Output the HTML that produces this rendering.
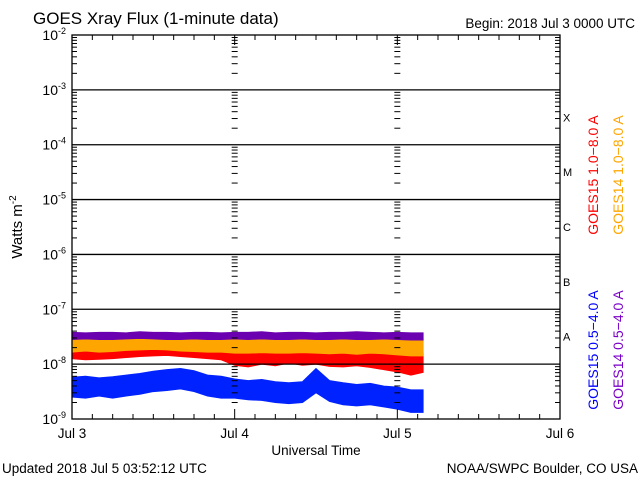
<!DOCTYPE html>
<html><head><meta charset="utf-8"><style>
body{margin:0;background:#fff;width:640px;height:480px;overflow:hidden}
svg text{font-family:"Liberation Sans",sans-serif}
</style></head><body>
<svg id="chart" width="640" height="480" xmlns="http://www.w3.org/2000/svg">
<rect width="640" height="480" fill="#fff"/>
<text x="33" y="24" font-size="17">GOES Xray Flux (1-minute data)</text>
<text x="635" y="28" font-size="13.5" text-anchor="end">Begin:  2018 Jul 3 0000 UTC</text>
<text transform="translate(22,227) rotate(-90)" font-size="15" text-anchor="middle">Watts m<tspan font-size="10" dy="-6">-2</tspan></text>
<text x="316" y="455" font-size="13.5" text-anchor="middle">Universal Time</text>
<text x="2" y="473" font-size="13.5">Updated 2018 Jul  5 03:52:12 UTC</text>
<text x="638" y="473" font-size="13.5" text-anchor="end">NOAA/SWPC Boulder, CO USA</text>
<g id="series"></g>
<g id="axes"></g>
<g id="legend" font-size="14">
<text transform="translate(598,175) rotate(-90)" fill="#ff0000" text-anchor="middle">GOES15 1.0−8.0 A</text>
<text transform="translate(623,175) rotate(-90)" fill="#ffa500" text-anchor="middle">GOES14 1.0−8.0 A</text>
<text transform="translate(598,350) rotate(-90)" fill="#0000ff" text-anchor="middle">GOES15 0.5−4.0 A</text>
<text transform="translate(623,350) rotate(-90)" fill="#7a00c8" text-anchor="middle">GOES14 0.5−4.0 A</text>
</g>
</svg>
<script>
// hours since Jul 3 00:00, every 2 h
const hours=[0,2,4,6,8,10,12,14,16,18,20,22,24,26,28,30,32,34,36,38,40,42,44,46,48,50,51.8];
// log10 flux envelopes
const g14sHi=[-7.42,-7.43,-7.42,-7.42,-7.43,-7.41,-7.42,-7.42,-7.43,-7.42,-7.42,-7.43,-7.42,-7.42,-7.41,-7.43,-7.42,-7.42,-7.43,-7.42,-7.42,-7.41,-7.42,-7.43,-7.42,-7.43,-7.43];
const g14sLo=[-7.55,-7.54,-7.55,-7.55,-7.54,-7.53,-7.54,-7.55,-7.55,-7.54,-7.55,-7.55,-7.54,-7.55,-7.54,-7.55,-7.55,-7.54,-7.55,-7.55,-7.54,-7.55,-7.55,-7.54,-7.55,-7.56,-7.56];
const g14lHi=[-7.50,-7.52,-7.51,-7.50,-7.50,-7.49,-7.48,-7.49,-7.50,-7.51,-7.50,-7.50,-7.52,-7.53,-7.51,-7.52,-7.50,-7.51,-7.52,-7.51,-7.52,-7.52,-7.51,-7.50,-7.52,-7.53,-7.53];
const g14lLo=[-7.78,-7.76,-7.78,-7.77,-7.75,-7.74,-7.73,-7.74,-7.76,-7.77,-7.78,-7.78,-7.80,-7.80,-7.79,-7.80,-7.80,-7.79,-7.80,-7.81,-7.80,-7.82,-7.80,-7.81,-7.83,-7.85,-7.85];
const g15lHi=[-7.62,-7.64,-7.63,-7.62,-7.61,-7.60,-7.58,-7.57,-7.59,-7.60,-7.62,-7.63,-7.66,-7.68,-7.66,-7.67,-7.63,-7.65,-7.66,-7.67,-7.68,-7.66,-7.70,-7.72,-7.78,-7.80,-7.80];
const g15lLo=[-7.90,-7.92,-7.91,-7.90,-7.88,-7.86,-7.85,-7.84,-7.86,-7.88,-7.90,-7.92,-8.02,-8.05,-8.00,-8.03,-7.98,-8.02,-8.00,-8.04,-8.05,-8.03,-8.06,-8.10,-8.14,-8.20,-8.15];
const g15sHi=[-8.24,-8.22,-8.25,-8.23,-8.20,-8.17,-8.13,-8.10,-8.08,-8.12,-8.20,-8.22,-8.27,-8.30,-8.28,-8.32,-8.34,-8.32,-8.08,-8.30,-8.34,-8.37,-8.35,-8.40,-8.42,-8.47,-8.47];
const g15sLo=[-8.60,-8.62,-8.58,-8.62,-8.58,-8.55,-8.50,-8.48,-8.45,-8.50,-8.58,-8.62,-8.62,-8.65,-8.66,-8.70,-8.72,-8.70,-8.52,-8.68,-8.74,-8.76,-8.74,-8.78,-8.82,-8.88,-8.88];
const dayLabels=["Jul 3","Jul 4","Jul 5","Jul 6"];
const expTicks=[-2,-3,-4,-5,-6,-7,-8,-9];
const classLabels=["X","M","C","B","A"];

const X0=72,X1=560,Y0=35,Y1=419;
const xs=h=>X0+h/72*(X1-X0);
const ys=l=>Y0+(-2-l)/7*(Y1-Y0);
const NS="http://www.w3.org/2000/svg";
function mk(tag,attrs,parent){const e=document.createElementNS(NS,tag);for(const k in attrs)e.setAttribute(k,attrs[k]);parent.appendChild(e);return e;}
const S=document.getElementById('series'),A=document.getElementById('axes');
function band(hi,lo,color,name){
  let pts=hours.map((h,i)=>xs(h)+','+ys(hi[i]));
  for(let i=hours.length-1;i>=0;i--)pts.push(xs(hours[i])+','+ys(lo[i]));
  const p=mk('polygon',{points:pts.join(' '),fill:color,stroke:color,'stroke-width':1},S);
  
  
}
band(g15sHi,g15sLo,'#0022ff','series-goes15-short');
band(g15lHi,g15lLo,'#ff0000','series-goes15-long');
band(g14lHi,g14lLo,'#ffa500','series-goes14-long');
band(g14sHi,g14sLo,'#6a00b0','series-goes14-short');
const f=mk('rect',{x:X0,y:Y0,width:X1-X0,height:Y1-Y0,fill:'none',stroke:'#000','stroke-width':1.3},A);


expTicks.forEach((e,i)=>{
  const y=ys(e);
  if(e<-2&&e>-9){const g=mk('line',{x1:X0,x2:X1,y1:y,y2:y,stroke:'#000','stroke-width':1.3},A);
    
    }
  const t=mk('text',{x:66,y:y+5,'font-size':14,'text-anchor':'end'},A);
  
  
  t.innerHTML='10<tspan font-size="9" dy="-6">'+e+'</tspan>';
  if(e>-9){for(let m=2;m<=9;m++){const yy=ys(e-1+Math.log10(m));
    [[X0,X0+5],[X1-5,X1],[xs(24)-3,xs(24)+3],[xs(48)-3,xs(48)+3]].forEach(([a,b])=>mk('line',{x1:a,x2:b,y1:yy,y2:yy,stroke:'#000'},A));}}
});
for(let h=3;h<72;h+=3){const x=xs(h);const L=h%24==0?10:5;
  mk('line',{x1:x,x2:x,y1:Y0,y2:Y0+L,stroke:'#000'},A);
  mk('line',{x1:x,x2:x,y1:Y1,y2:Y1-L,stroke:'#000'},A);}
dayLabels.forEach((d,i)=>{const t=mk('text',{x:xs(i*24),y:438,'font-size':13.5,'text-anchor':'middle'},A);
  
  
  t.textContent=d;});
classLabels.forEach((c,i)=>{const t=mk('text',{x:563,y:ys(-3.5-i)+4,'font-size':11,'font-family':'Liberation Serif,serif'},A);
  
  
  t.textContent=c;});
</script>
</body></html>
